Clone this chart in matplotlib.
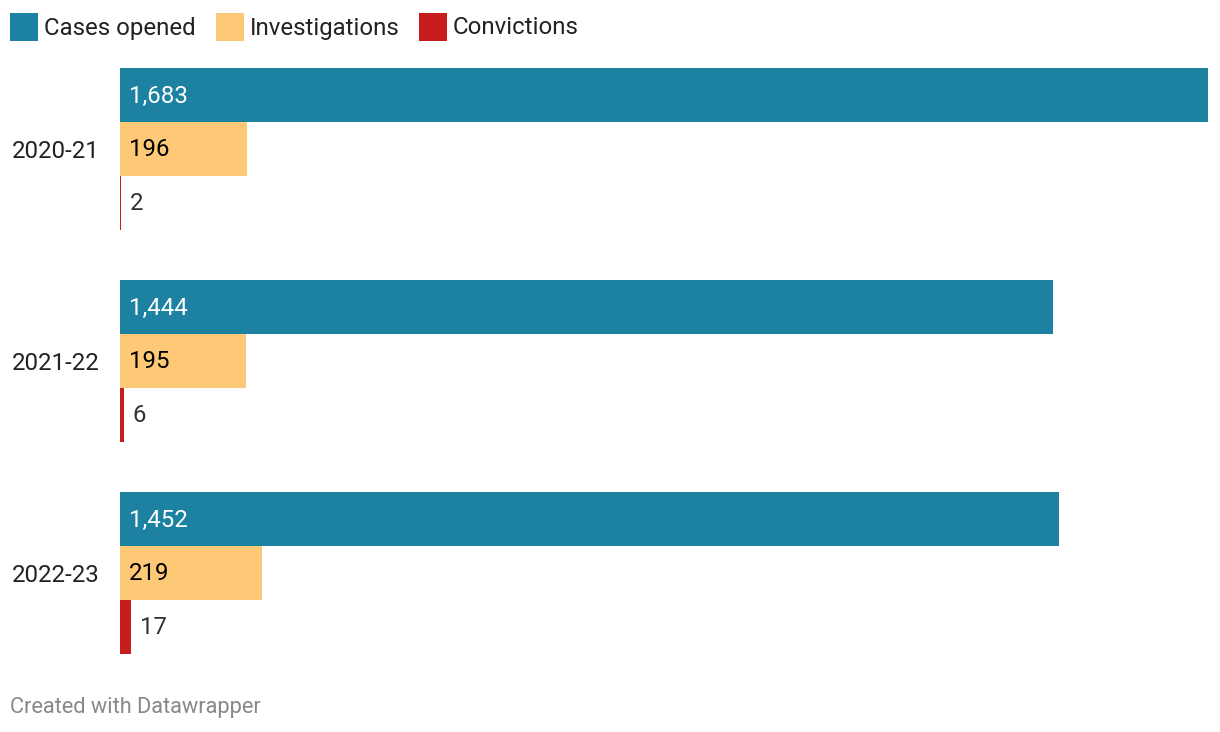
import matplotlib.pyplot as plt
from matplotlib.patches import Rectangle

plt.rcParams['font.family'] = ['Roboto', 'DejaVu Sans']

years = ["2020-21", "2021-22", "2022-23"]
series_names = ["Cases opened", "Investigations", "Convictions"]
cases = [1683, 1444, 1452]
investigations = [196, 195, 219]
convictions = [2, 6, 17]

colors = ["#1d81a2", "#fec977", "#c71e1d"]
label_colors = ["white", "black", "#333333"]

W, H = 1220, 732
fig = plt.figure(figsize=(W / 100, H / 100), dpi=100)

# axes in pixel terms: bars from x=120 to 1208, y 68..654
ax = fig.add_axes([120 / W, 1 - 654 / H, (1208 - 120) / W, (654 - 68) / H])
gap = 50 / 54
group_step = 3 + gap
data = [cases, investigations, convictions]
fs = 17.3

for i, year in enumerate(years):
    center = i * group_step
    for j, vals in enumerate(data):
        y = center + (j - 1)
        ax.barh(y, vals[i], height=1.0, color=colors[j], linewidth=0)
        txt = f"{vals[i]:,}"
        xpos = 0 if j < 2 else vals[i]
        ax.annotate(txt, (xpos, y), xytext=(9, -1), textcoords="offset pixels",
                    va="center", ha="left", fontsize=fs, color=label_colors[j])
    fig.text(12 / W, 1 - (68 + i * 212 + 83) / H, year, fontsize=fs,
             va="center", ha="left", color="#222222")

ax.set_xlim(0, max(cases))
ax.set_ylim(2 * group_step + 1.5, -1.5)
ax.axis("off")

# legend
leg_x = [10, 216, 419]
for k, name in enumerate(series_names):
    fig.patches.append(Rectangle((leg_x[k] / W, 1 - 41 / H), 28 / W, 28 / H,
                                 transform=fig.transFigure, color=colors[k], linewidth=0))
    fig.text((leg_x[k] + 34) / W, 1 - 28 / H, name, fontsize=fs,
             va="center", ha="left", color="#222222")

fig.text(10 / W, 1 - 708 / H, "Created with Datawrapper", fontsize=15.7,
         va="center", ha="left", color="#888888")

fig.savefig("out.png", dpi=100)
